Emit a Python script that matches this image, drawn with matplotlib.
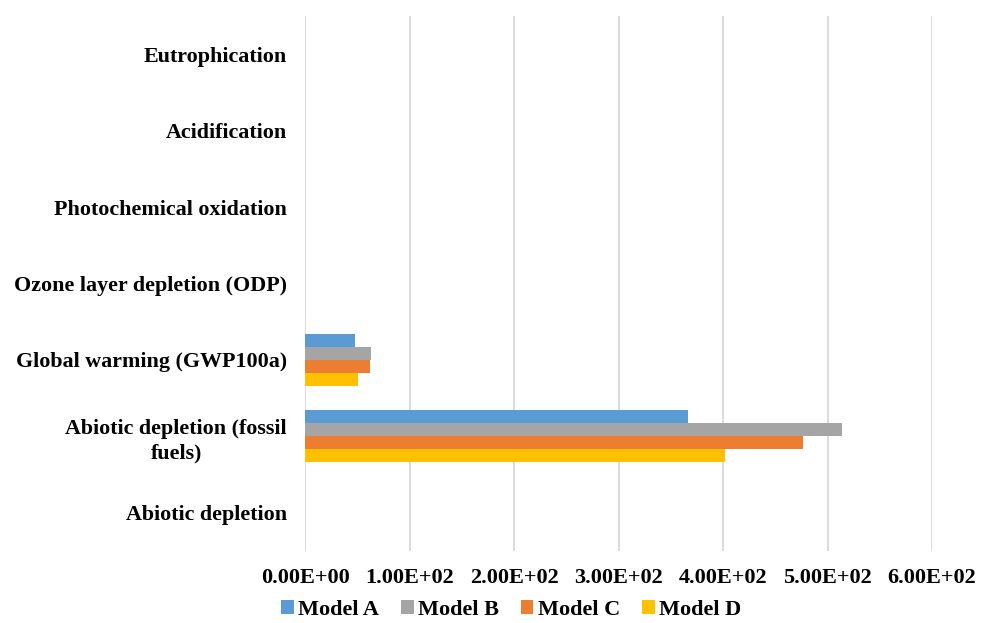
import matplotlib
matplotlib.use("Agg")
import matplotlib.pyplot as plt
import numpy as np

categories = ["Abiotic depletion", "Abiotic depletion (fossil\nfuels)", "Global warming (GWP100a)",
              "Ozone layer depletion (ODP)", "Photochemical oxidation", "Acidification", "Eutrophication"]
series_names = ["Model A", "Model B", "Model C", "Model D"]
model_a = [0.0008, 366.7, 47.6, 0.00001, 0.05, 0.3, 0.1]
model_b = [0.0010, 513.6, 63.2, 0.00001, 0.06, 0.4, 0.12]
model_c = [0.0009, 476.5, 62.3, 0.00001, 0.06, 0.35, 0.11]
model_d = [0.0008, 401.5, 50.8, 0.00001, 0.05, 0.3, 0.1]
colors = ["#5B9BD5", "#A5A5A5", "#ED7D31", "#FFC000"]
xticks = [0, 100, 200, 300, 400, 500, 600]
xtick_labels = ["0.00E+00", "1.00E+02", "2.00E+02", "3.00E+02", "4.00E+02", "5.00E+02", "6.00E+02"]

plt.rcParams['font.family'] = ['Liberation Serif', 'DejaVu Serif']
fig = plt.figure(figsize=(9.89, 6.23), dpi=100)
ax = fig.add_axes([0.3084, 0.1156, 0.634, 0.8587])

y = np.arange(len(categories))
h = 0.171
data = [model_a, model_b, model_c, model_d]
handles = []
for i, (vals, name, c) in enumerate(zip(data, series_names, colors)):
    offs = (1.5 - i) * h
    b = ax.barh(y + offs, vals, height=h, color=c, label=name, zorder=3)
    handles.append(b)

ax.set_xlim(0, 600)
ax.set_ylim(-0.5, len(categories) - 0.5)
ax.set_xticks(xticks)
ax.set_xticklabels(xtick_labels, fontsize=16, fontweight='bold')
ax.set_yticks(y)
ax.set_yticklabels(categories, fontsize=15.8, fontweight='bold', ha='right', linespacing=1.3)
for lab in ax.get_yticklabels():
    lab.set_multialignment('center')
ax.tick_params(axis='both', length=0)
ax.tick_params(axis='x', pad=12)
ax.tick_params(axis='y', pad=13)
ax.grid(axis='x', color='#D9D9D9', linewidth=1.3, zorder=0)
for s in ax.spines.values():
    s.set_visible(False)

fig.legend(handles=handles, labels=series_names, loc='lower center', ncol=4,
           bbox_to_anchor=(0.517, -0.027), frameon=False, handlelength=0.55, handleheight=0.55,
           columnspacing=1.0, handletextpad=0.2,
           prop={'family': 'Liberation Serif', 'weight': 'bold', 'size': 16})

fig.savefig("out.png", dpi=100)
